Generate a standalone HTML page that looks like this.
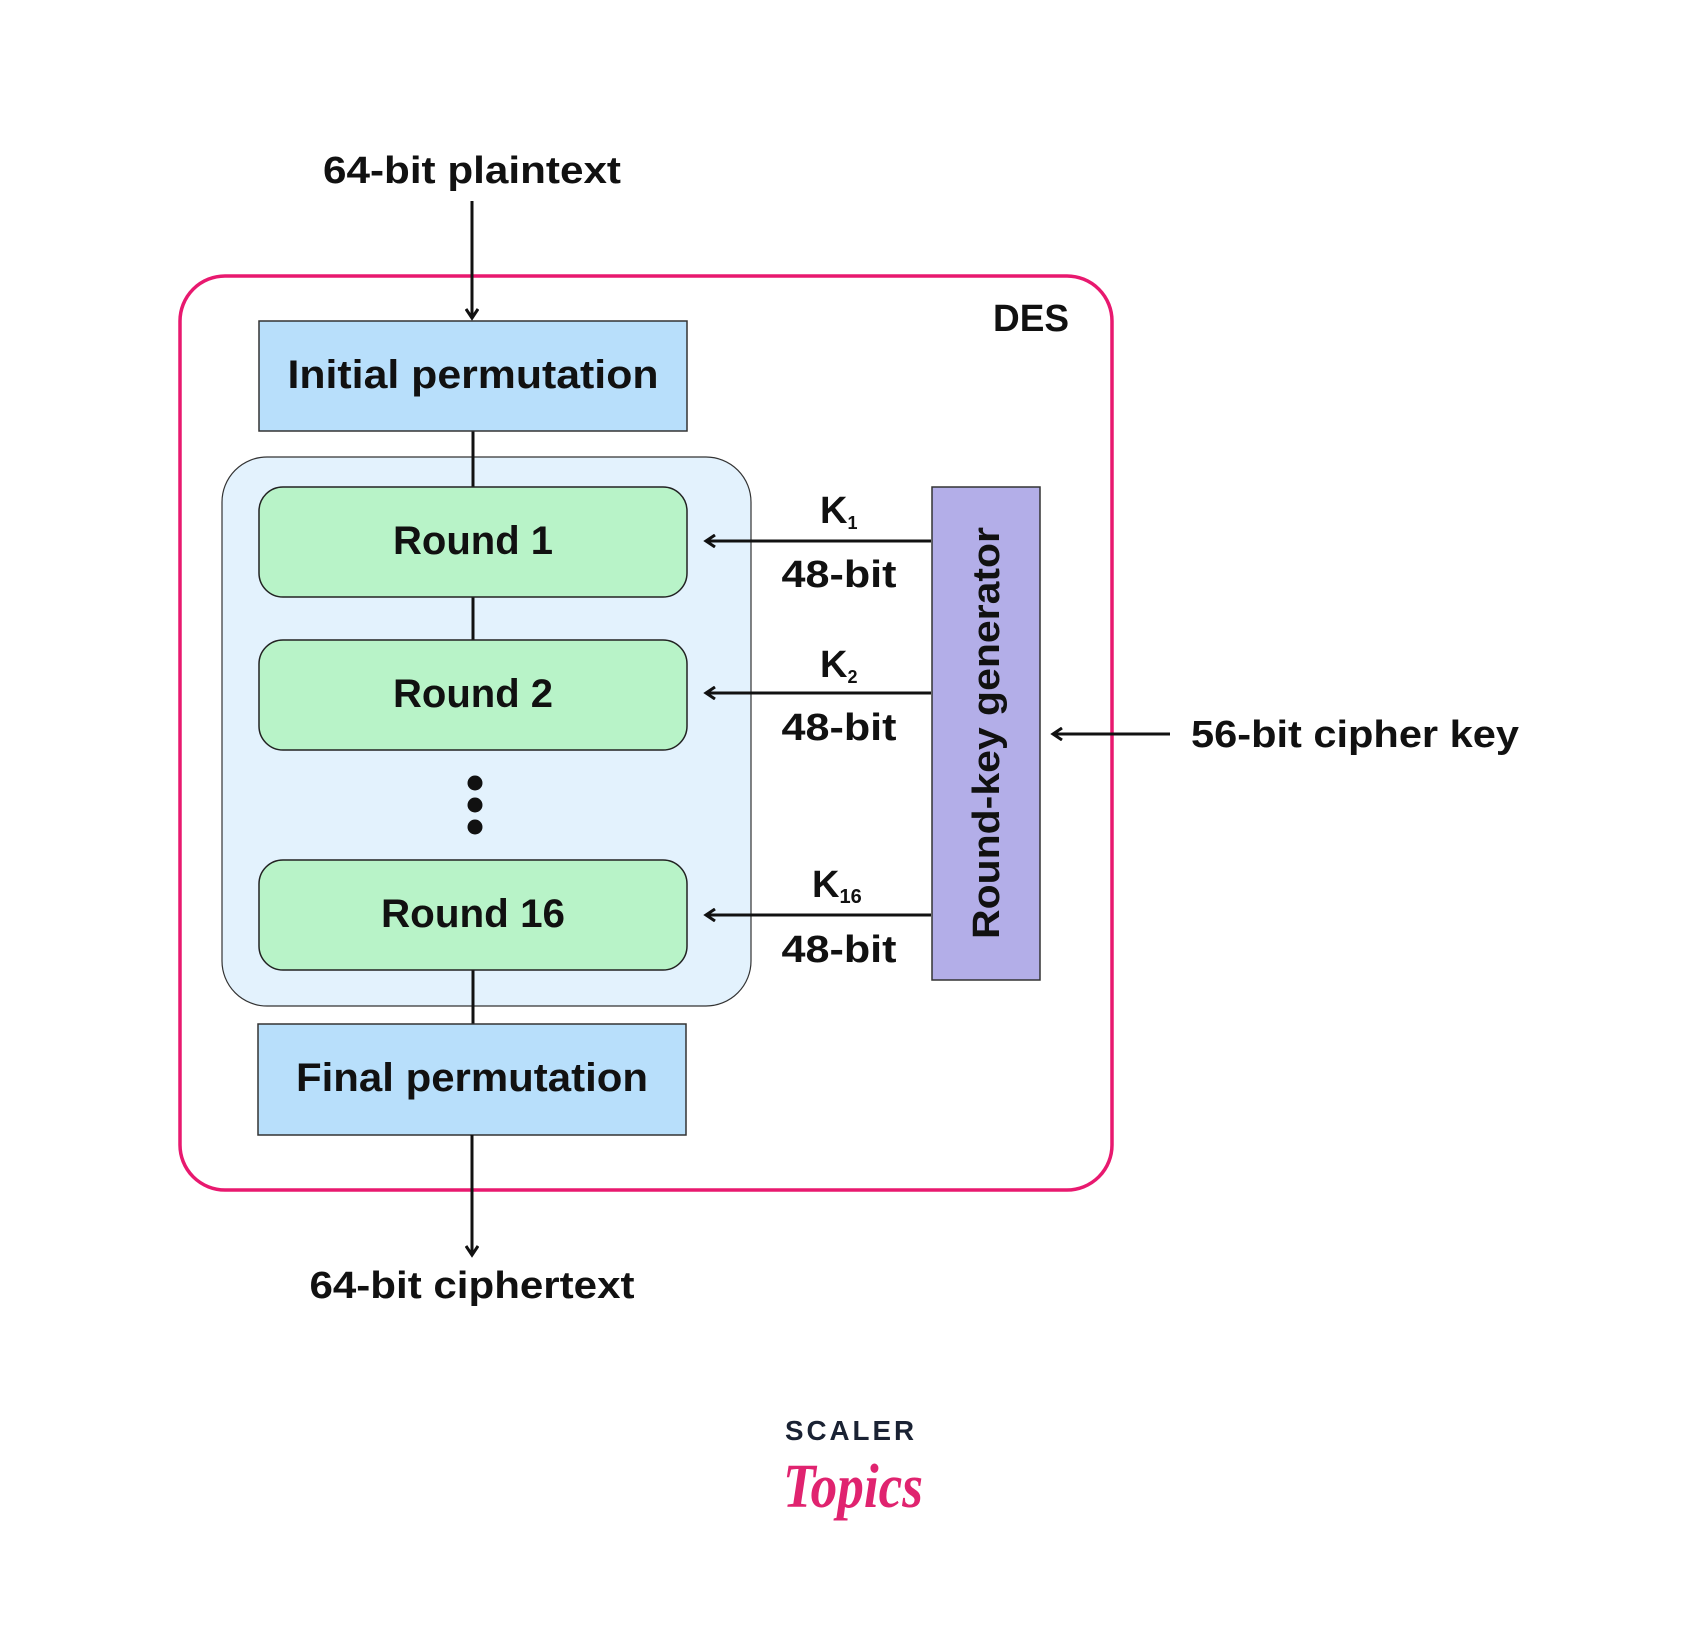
<!DOCTYPE html>
<html><head><meta charset="utf-8"><style>html,body{margin:0;padding:0;background:#fff}svg{display:block}</style></head>
<body>
<svg width="1701" height="1628" viewBox="0 0 1701 1628" xmlns="http://www.w3.org/2000/svg" font-family="'Liberation Sans', sans-serif" font-weight="bold" fill="#111">
<defs>
<marker id="a" markerWidth="14" markerHeight="14" refX="11" refY="7" orient="auto" markerUnits="userSpaceOnUse">
<path d="M2,1 L11,7 L2,13" fill="none" stroke="#111" stroke-width="3"/>
</marker>
</defs>
<rect x="180" y="276" width="932" height="914" rx="45" fill="#fff" stroke="#e8196f" stroke-width="3.5"/>
<line x1="472" y1="201" x2="472" y2="318" stroke="#111" stroke-width="3" marker-end="url(#a)"/>
<text x="472" y="183" text-anchor="middle" font-size="38" textLength="298" lengthAdjust="spacingAndGlyphs">64-bit plaintext</text>
<text x="1031" y="331" text-anchor="middle" font-size="38" textLength="76" lengthAdjust="spacingAndGlyphs">DES</text>
<rect x="222" y="457" width="529" height="549" rx="45" fill="#e3f2fd" stroke="#333" stroke-width="1.2"/>
<line x1="473" y1="431" x2="473" y2="640" stroke="#111" stroke-width="3"/>
<line x1="473" y1="970" x2="473" y2="1024" stroke="#111" stroke-width="3"/>
<rect x="259" y="321" width="428" height="110" fill="#b8dffb" stroke="#333" stroke-width="1.5"/>
<text x="473" y="388" text-anchor="middle" font-size="40" textLength="371" lengthAdjust="spacingAndGlyphs">Initial permutation</text>
<rect x="259" y="487" width="428" height="110" rx="24" fill="#b8f3c8" stroke="#222" stroke-width="1.5"/>
<text x="473" y="554" text-anchor="middle" font-size="40" textLength="160" lengthAdjust="spacingAndGlyphs">Round 1</text>
<rect x="259" y="640" width="428" height="110" rx="24" fill="#b8f3c8" stroke="#222" stroke-width="1.5"/>
<text x="473" y="707" text-anchor="middle" font-size="40" textLength="160" lengthAdjust="spacingAndGlyphs">Round 2</text>
<circle cx="475" cy="783" r="7.5" fill="#111"/><circle cx="475" cy="805" r="7.5" fill="#111"/><circle cx="475" cy="827" r="7.5" fill="#111"/>
<rect x="259" y="860" width="428" height="110" rx="24" fill="#b8f3c8" stroke="#222" stroke-width="1.5"/>
<text x="473" y="927" text-anchor="middle" font-size="40" textLength="184" lengthAdjust="spacingAndGlyphs">Round 16</text>
<rect x="258" y="1024" width="428" height="111" fill="#b8dffb" stroke="#333" stroke-width="1.5"/>
<text x="472" y="1091" text-anchor="middle" font-size="40" textLength="352" lengthAdjust="spacingAndGlyphs">Final permutation</text>
<line x1="472" y1="1135" x2="472" y2="1255" stroke="#111" stroke-width="3" marker-end="url(#a)"/>
<text x="472" y="1298" text-anchor="middle" font-size="38" textLength="325" lengthAdjust="spacingAndGlyphs">64-bit ciphertext</text>
<rect x="932" y="487" width="108" height="493" fill="#b3aee8" stroke="#333" stroke-width="1.5"/>
<text transform="translate(999,733) rotate(-90)" text-anchor="middle" font-size="38" textLength="412" lengthAdjust="spacingAndGlyphs">Round-key generator</text>
<line x1="931" y1="541" x2="706" y2="541" stroke="#111" stroke-width="3" marker-end="url(#a)"/>
<line x1="931" y1="693" x2="706" y2="693" stroke="#111" stroke-width="3" marker-end="url(#a)"/>
<line x1="931" y1="915" x2="706" y2="915" stroke="#111" stroke-width="3" marker-end="url(#a)"/>
<text x="820" y="523" font-size="38">K<tspan font-size="18" dy="6">1</tspan></text>
<text x="820" y="677" font-size="38">K<tspan font-size="18" dy="6">2</tspan></text>
<text x="812" y="897" font-size="38">K<tspan font-size="20" dy="6">16</tspan></text>
<text x="839" y="587" text-anchor="middle" font-size="38" textLength="115" lengthAdjust="spacingAndGlyphs">48-bit</text>
<text x="839" y="740" text-anchor="middle" font-size="38" textLength="115" lengthAdjust="spacingAndGlyphs">48-bit</text>
<text x="839" y="962" text-anchor="middle" font-size="38" textLength="115" lengthAdjust="spacingAndGlyphs">48-bit</text>
<line x1="1170" y1="734" x2="1053" y2="734" stroke="#111" stroke-width="3" marker-end="url(#a)"/>
<text x="1191" y="747" font-size="38" textLength="328" lengthAdjust="spacingAndGlyphs">56-bit cipher key</text>
<text x="851" y="1440" text-anchor="middle" font-size="28" fill="#1a2233" letter-spacing="3" textLength="132" lengthAdjust="spacingAndGlyphs">SCALER</text>
<text x="853" y="1507" text-anchor="middle" font-size="62" font-weight="bold" font-style="italic" font-family="'Liberation Serif', serif" fill="#e0236f" textLength="140" lengthAdjust="spacingAndGlyphs">Topics</text>
</svg>
</body></html>
